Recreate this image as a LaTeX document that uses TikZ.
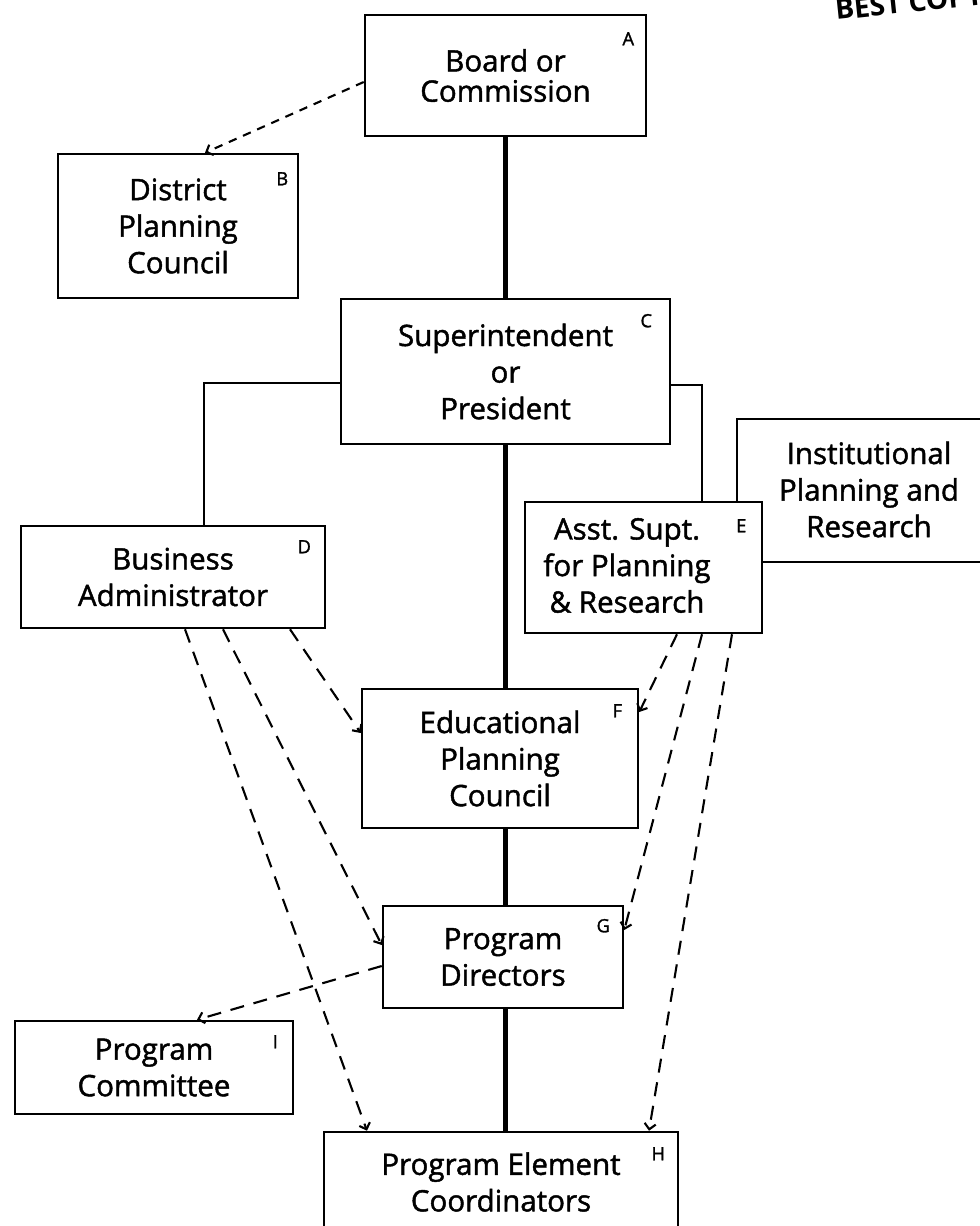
\documentclass[tikz,border=0pt]{standalone}
\usepackage{fontspec}
\setmainfont{Open Sans}[UprightFeatures={FakeBold=1.5}]
\usetikzlibrary{arrows.meta,calc}
% one drawing unit = one pixel of the chart grid
\newlength\pxu
\setlength\pxu{0.025cm}
\newcommand\orgfont{\fontsize{21}{26}\selectfont}
\tikzset{
  orgbox/.style={draw, line width=1.8pt, inner sep=0pt, align=center, font=\orgfont},
  orgtext/.style={inner sep=0pt, align=center, font=\orgfont},
  tag/.style={inner sep=0pt, font=\fontsize{13}{13}\selectfont},
  trunk/.style={line width=3pt},
  branch/.style={line width=1.7pt},
  report/.style={line width=1.5pt, dash pattern=on 10pt off 7pt,
    -{Straight Barb[length=4pt,width=8pt]}},
  advise/.style={line width=1.5pt, dash pattern=on 6pt off 5pt,
    -{Straight Barb[length=4pt,width=8pt]}},
  stamp/.style={inner sep=0pt, font=\fontsize{20}{20}\selectfont\bfseries}
}
\begin{document}
\begin{tikzpicture}[x=0.025cm, y=-0.025cm]
\useasboundingbox (0,0) rectangle (980,1226);
\clip (0,0) rectangle (980,1226);

% stamp along the top edge
\node[stamp, rotate=6, anchor=base west] (stamp) at (836,20) {BEST COPY};

% boxes
\node[orgbox, minimum width=281\pxu, minimum height=121\pxu,
      font=\fontsize{21}{21.5}\selectfont] (A) at (505.5,75.5) {Board or\\Commission};
\node[orgbox, minimum width=240\pxu, minimum height=144\pxu] (B) at (178,226) {District\\Planning\\Council};
\node[orgbox, minimum width=329\pxu, minimum height=145\pxu] (C) at (505.5,371.5) {Superintendent\\or\\President};
\node[orgbox, minimum width=304\pxu, minimum height=102\pxu] (D) at (173,577) {Business\\Administrator};
\node[orgbox, minimum width=237\pxu, minimum height=131\pxu] (E) at (643.5,567.5) {};
\node[orgtext] (E-text) at (627,565.5) {Asst. Supt.\\for Planning\\\& Research};
\node[orgbox, minimum width=276\pxu, minimum height=139\pxu] (F) at (500,758.5) {Educational\\Planning\\Council};
\node[orgbox, minimum width=240\pxu, minimum height=102\pxu] (G) at (503,957) {Program\\Directors};
\node[orgbox, minimum width=354\pxu, minimum height=100\pxu] (H) at (501,1182) {Program Element\\Coordinators};
\node[orgbox, minimum width=278\pxu, minimum height=93\pxu] (I) at (154,1067.5) {Program\\Committee};

% staff office behind E, running off the right edge
\node[orgtext] (IPR) at (869,489.5) {Institutional\\Planning and\\Research};
\coordinate (ipr-top) at (980,419);
\coordinate (ipr-left) at (737,419);
\coordinate (ipr-base) at (980,562);
\draw[line width=1.8pt] (ipr-top) -- (ipr-left) -- (ipr-left |- E.north);
\draw[line width=1.8pt] (ipr-base) -- (ipr-base -| E.east);

% corner letters
\node[tag] (A-tag) at ($(A.north east)+(-19,25)$) {A};
\node[tag] (B-tag) at ($(B.north east)+(-17,26)$) {B};
\node[tag] (C-tag) at ($(C.north east)+(-25,23)$) {C};
\node[tag] (D-tag) at ($(D.north east)+(-22,22)$) {D};
\node[tag] (E-tag) at ($(E.north east)+(-22,25)$) {E};
\node[tag] (F-tag) at ($(F.north east)+(-22,23)$) {F};
\node[tag] (G-tag) at ($(G.north east)+(-21,21)$) {G};
\node[tag] (H-tag) at ($(H.north east)+(-21,23)$) {H};
\node[tag] (I-tag) at ($(I.north east)+(-19,22)$) {I};

% line of authority
\draw[trunk] (A.south) -- (A.south |- C.north);
\draw[trunk] (C.south) -- (C.south |- F.north);
\draw[trunk] (C.south |- F.south) -- (C.south |- G.north);
\draw[trunk] (C.south |- G.south) -- (C.south |- H.north);
\draw[branch] ($(C.west)+(0,11.5)$) -| ($(D.north)+(31,0)$);
\draw[branch] ($(C.east)+(0,13.5)$) -| ($(E.north)+(58.5,0)$);

% advisory and coordination links
\draw[advise] ($(A.west)+(0,6.5)$) -- ($(B.north)+(27,0)$);
\draw[report] ($(D.south)+(117,0)$) -- ($(F.west)+(0,-25.5)$);
\draw[report] ($(D.south)+(50,0)$) -- ($(G.west)+(0,-12)$);
\draw[report] ($(D.south)+(12,0)$) -- ($(H.north)+(-134,0)$);
\draw[report] ($(E.south)+(33.5,0)$) -- ($(F.east)+(0,-46.5)$);
\draw[report] ($(E.south)+(58.5,0)$) -- ($(G.east)+(0,-27)$);
\draw[report] ($(E.south)+(88.5,0)$) -- ($(H.north)+(148,0)$);
\draw[report] ($(G.west)+(0,9)$) -- ($(I.north)+(43,0)$);
\end{tikzpicture}
\end{document}
